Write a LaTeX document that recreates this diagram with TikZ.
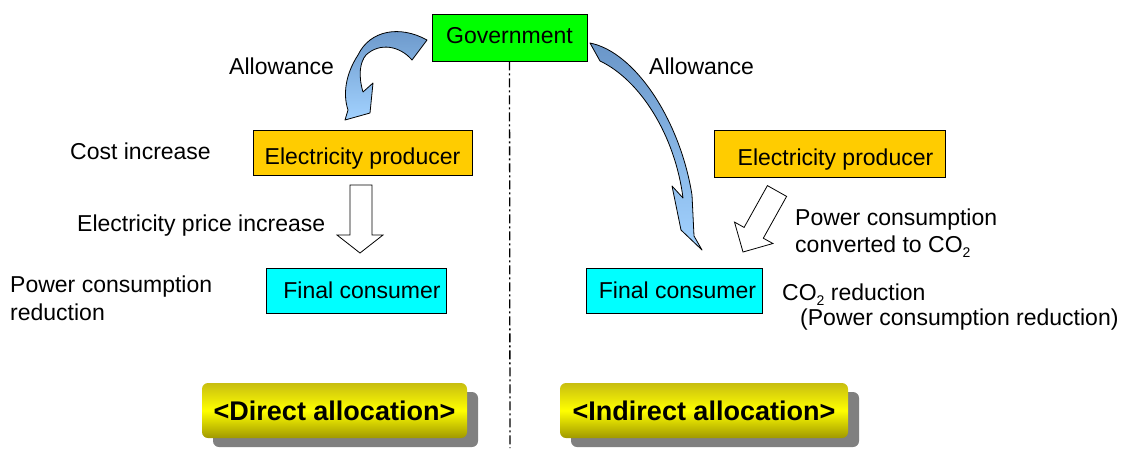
\documentclass[tikz,border=0pt]{standalone}
\usepackage{fontspec}
\setmainfont{Liberation Sans}
\usetikzlibrary{shadows}
\definecolor{govgreen}{HTML}{00FF00}
\definecolor{prodorange}{HTML}{FFCC00}
\definecolor{conscyan}{HTML}{00FFFF}
\definecolor{arrdark}{HTML}{6A96C8}
\definecolor{arrlight}{HTML}{A2D2FF}
\definecolor{labtop}{HTML}{C8BE10}
\definecolor{labbot}{HTML}{A09800}
\definecolor{shadowgray}{HTML}{808080}
\newcommand{\subtwo}{\raisebox{-0.45ex}{\fontsize{14}{14}\selectfont 2}}
\begin{document}
\begin{tikzpicture}[x=1pt,y=-1pt,
  txt/.style={font=\fontsize{23}{27}\selectfont, inner sep=0pt, anchor=base west},
  box/.style={draw=black, line width=0.8pt, font=\fontsize{23}{27}\selectfont, text height=16.5pt, text depth=0pt, inner sep=0pt},
  lab/.style={rounded corners=6pt, top color=labtop, bottom color=labbot, middle color=yellow,
    font=\bfseries\fontsize{27}{32}\selectfont, text height=19pt, text depth=0pt, inner sep=0pt, minimum height=55pt,
    drop shadow={shadow xshift=11pt, shadow yshift=-9pt, fill=shadowgray, opacity=1}},
  bigarrow/.style={draw=black, line width=0.8pt, top color=arrdark, bottom color=arrlight, line join=round},
  blockarrow/.style={draw=black, line width=0.8pt, fill=white, line join=miter},
  divider/.style={draw=black, line width=1.3pt, dash pattern=on 9pt off 3pt on 2pt off 3pt}]

\useasboundingbox (0,0) rectangle (1131,448);

% boxes
\node[box, fill=govgreen, minimum width=155pt, minimum height=47pt, text depth=4pt] (gov) at (509.5,37.5) {Government};
\node[box, fill=prodorange, minimum width=219pt, minimum height=45pt, text height=24pt] (prodL) at (362.5,152.5) {Electricity producer};
\node[box, fill=prodorange, minimum width=231pt, minimum height=47pt, text height=24pt] (prodR) at (829.5,153.5) {\hspace{12pt}Electricity producer};
\node[box, fill=conscyan, minimum width=180pt, minimum height=45pt] (consL) at (356,290.5) {\hspace{12pt}Final consumer};
\node[box, fill=conscyan, minimum width=176pt, minimum height=45pt] (consR) at (674,290.5) {\hspace{7pt}Final consumer};

% divider
\coordinate (lineend) at (510,448);
\draw[divider] (gov.south) -- (lineend);

% labels
\node[lab, minimum width=265pt] (direct) at (334.5,410.5) {\textless Direct allocation\textgreater};
\node[lab, minimum width=288pt] (indirect) at (704,410.5) {\textless Indirect allocation\textgreater};

% curved arrows (allowance)
\draw[bigarrow] (427,40) .. controls (400,25) and (370,30) .. (358,55)
  .. controls (345,75) and (343,95) .. (348,110) -- (345,120) -- (370,113) -- (373,83) -- (363,92)
  .. controls (358,75) and (360,62) .. (366,55) .. controls (380,42) and (400,46) .. (412,60) -- cycle;
\draw[bigarrow] (590,43) .. controls (635,52) and (680,120) .. (692,195) -- (694,236) -- (702,250)
  -- (681,230) -- (672,186) -- (683,198) .. controls (675,135) and (640,80) .. (600,61) -- cycle;

% block arrows
\draw[blockarrow] (350,185) -- (372,185) -- (372,235) -- (383,235) -- (360,253) -- (337,235) -- (350,235) -- cycle;
\draw[blockarrow] (767.4,185.6) -- (744.1,227.4) -- (734.5,222.1) -- (743,252) -- (772.9,243.5) -- (763.3,238.2) -- (786.6,196.4) -- cycle;

% texts
\node[txt] (allowL) at (229,74) {Allowance};
\node[txt] (allowR) at (649,74) {Allowance};
\node[txt] (cost) at (70,159) {Cost increase};
\node[txt] (price) at (77,231) {Electricity price increase};
\node[txt] (pcL1) at (10,292) {Power consumption};
\node[txt] (pcL2) at (10,320) {reduction};
\node[txt] (pcR1) at (795,225) {Power consumption};
\node[txt] (pcR2) at (795,252) {converted to CO\subtwo};
\node[txt] (co2) at (782,300) {CO\subtwo{} reduction};
\node[txt] (pcr) at (800,325) {(Power consumption reduction)};
\end{tikzpicture}
\end{document}
